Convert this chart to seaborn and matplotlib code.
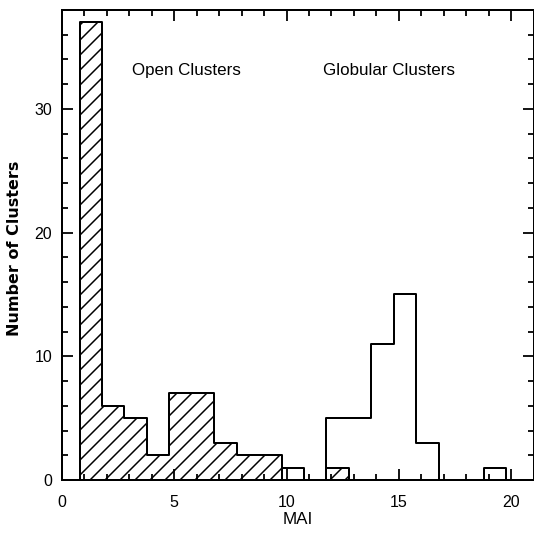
import numpy as np
import matplotlib
matplotlib.use("Agg")
import matplotlib.pyplot as plt
import seaborn as sns
from matplotlib.ticker import MultipleLocator

# ---- data ----
bin_start = 0.78
bin_width = 1.0
n_bins = 20
open_counts = [37, 6, 5, 2, 7, 7, 3, 2, 2, 0, 0, 1, 0, 0, 0, 0, 0, 0, 0, 0]
globular_counts = [0, 0, 0, 0, 0, 0, 0, 0, 0, 1, 0, 5, 5, 11, 15, 3, 0, 0, 1, 0]
x_ticks = [0, 5, 10, 15, 20]
y_ticks = [0, 10, 20, 30]
labels = ["Open Clusters", "Globular Clusters"]

edges = (bin_start + bin_width * np.arange(n_bins + 1)).tolist()
centers = [(a + b) / 2 for a, b in zip(edges[:-1], edges[1:])]

DPI = 90


def pt(px):
    return px * 72.0 / DPI


sns.set_style("ticks")
plt.rcParams["font.family"] = ["Liberation Sans", "DejaVu Sans"]
plt.rcParams["hatch.linewidth"] = pt(1.5)
plt.rcParams["text.color"] = "black"
plt.rcParams["axes.labelcolor"] = "black"
plt.rcParams["xtick.color"] = "black"
plt.rcParams["ytick.color"] = "black"

W, H = 534, 537
fig = plt.figure(figsize=(W / DPI, H / DPI), dpi=DPI)
ax = fig.add_axes([62 / W, 57 / H, (533.5 - 62) / W, 470 / H])

sns.histplot(x=centers, weights=open_counts, bins=edges, element="step",
             fill=True, color="black", facecolor="none", edgecolor="black",
             hatch="//", linewidth=pt(2), ax=ax)
sns.histplot(x=centers, weights=globular_counts, bins=edges, element="step",
             fill=True, color="black", facecolor="none", edgecolor="black",
             linewidth=pt(2), ax=ax)

ax.set_xlim(0, 21)
ax.set_ylim(0, 38)
ax.set_xticks(x_ticks)
ax.set_yticks(y_ticks)
ax.xaxis.set_minor_locator(MultipleLocator(1))
ax.yaxis.set_minor_locator(MultipleLocator(2))
ax.tick_params(which="both", direction="in", top=True, right=True,
               color="black", width=pt(1.8))
ax.tick_params(which="major", length=pt(11))
ax.tick_params(which="minor", length=pt(5.5))
ax.tick_params(axis="x", which="major", pad=pt(15), labelsize=pt(16))
ax.tick_params(axis="y", which="major", pad=pt(10), labelsize=pt(16))
for s in ax.spines.values():
    s.set_linewidth(pt(2))
    s.set_color("black")

ax.set_xlabel("MAI", fontsize=pt(17))
ax.xaxis.set_label_coords(0.5, -(520 - 480) / 470)
ax.xaxis.label.set_va("center")
ax.set_ylabel("Number of Clusters", fontsize=pt(16), fontweight="bold",
              family=["DejaVu Sans"])
ax.yaxis.set_label_coords(-(62 - 15) / 471.5, (480 - 248) / 470)
ax.yaxis.label.set_va("center")

ax.text(5.56, 33.1, labels[0], ha="center", va="center", fontsize=pt(17))
ax.text(14.55, 33.1, labels[1], ha="center", va="center", fontsize=pt(17))

fig.savefig("out.png", dpi=DPI)
